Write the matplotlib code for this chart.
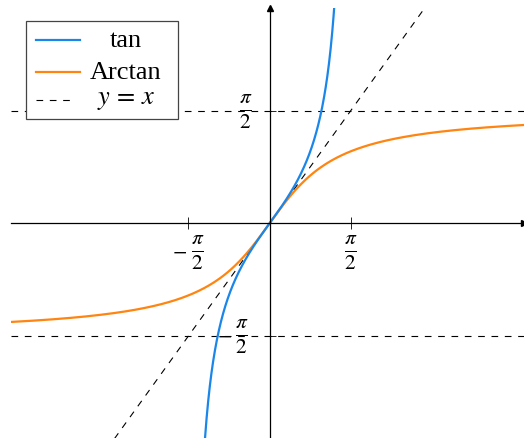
import matplotlib
matplotlib.use("Agg")
import matplotlib.pyplot as plt
import numpy as np
from matplotlib.lines import Line2D
from matplotlib.patches import Rectangle
import matplotlib.transforms as mtransforms

plt.rcParams.update({
    "font.family": "Liberation Serif",
    "mathtext.fontset": "stix",
})

W, H = 524, 439
X_MIN, X_MAX = -5.0, 4.92
Y_MIN, Y_MAX = -2.99, 3.0
HALF_PI = np.pi / 2

# tan is drawn only where it stays inside the y window
x_tan = np.linspace(-np.arctan(3), np.arctan(3), 400)
y_tan = np.tan(x_tan)
x_atan = np.linspace(-5, 5, 400)
y_atan = np.arctan(x_atan)
x_id = np.array([-3.0, 3.0])
y_id = x_id

BLUE = "#1a86ea"
ORANGE = "#ff8410"
DASH = (0, (6, 6))

fig = plt.figure(figsize=(W / 100, H / 100), dpi=100)
left = 11 / W
ax = fig.add_axes([left, 0.0, 1.0 - left, 1.0 - 9 / H])
ax.set_xlim(X_MIN, X_MAX)
ax.set_ylim(Y_MIN, Y_MAX)

for side in ("top", "right"):
    ax.spines[side].set_visible(False)
ax.spines["left"].set_position("zero")
ax.spines["bottom"].set_position("zero")
for side in ("left", "bottom"):
    ax.spines[side].set_linewidth(0.9)

ax.set_xticks([-HALF_PI, HALF_PI])
ax.set_yticks([-HALF_PI, HALF_PI])
ax.tick_params(direction="inout", length=9, width=0.6, labelbottom=False, labelleft=False)

# axis arrow heads
ax.plot(1, 0, ">k", markersize=4, transform=ax.get_yaxis_transform(), clip_on=False)
ax.plot(0, 1, "^k", markersize=4, transform=ax.get_xaxis_transform(), clip_on=False)

ax.plot(x_id, y_id, color="black", lw=0.8, linestyle=DASH)
ax.axhline(HALF_PI, color="black", lw=0.8, linestyle=DASH)
ax.axhline(-HALF_PI, color="black", lw=0.8, linestyle=DASH)
ax.plot(x_atan, y_atan, color=ORANGE, lw=1.6)
ax.plot(x_tan, y_tan, color=BLUE, lw=1.6)

# tick labels: fraction and minus sign placed separately
FRAC = r"$\frac{\pi}{2}$"
off = lambda dx, dy: mtransforms.offset_copy(ax.transData, fig=fig, x=dx, y=dy, units="dots")


def frac_label(x, y, dx, dy, neg=False, minus_dx=-18):
    ax.text(x, y, FRAC, ha="center", va="center", fontsize=22, transform=off(dx, dy))
    if neg:
        ax.text(x, y, r"$-$", ha="center", va="center", fontsize=15,
                transform=off(dx + minus_dx, dy + 1))


frac_label(HALF_PI, 0, 0, -29)
frac_label(-HALF_PI, 0, 9, -29, neg=True)
frac_label(0, HALF_PI, -24, 0)
frac_label(0, -HALF_PI, -28, 0, neg=True, minus_dx=-17)


# legend box, laid out in pixels
def px(x, y):
    return x / W, 1 - y / H


x0, y0 = px(26, 120)
x1, y1 = px(178, 22)
fig.add_artist(Rectangle((x0, y0), x1 - x0, y1 - y0, transform=fig.transFigure,
                         facecolor="white", edgecolor="#444444", lw=0.9, zorder=5))
entries = [
    ("tan", BLUE, "-", 1.6, 80, 41),
    ("Arctan", ORANGE, "-", 1.6, 80, 73),
    (r"$y\,=\,x$", "black", DASH, 0.8, 72, 101),
]
for label, color, ls, lw, xend, yy in entries:
    a, b = px(36, yy)
    c, _ = px(xend, yy)
    fig.add_artist(Line2D([a, c], [b, b], transform=fig.transFigure, color=color,
                          lw=lw, linestyle=ls, zorder=6))
    tx, ty = px(126, yy)
    fig.text(tx, ty, label, ha="center", va="center", fontsize=19, zorder=6)

fig.savefig("out.png", dpi=100)
